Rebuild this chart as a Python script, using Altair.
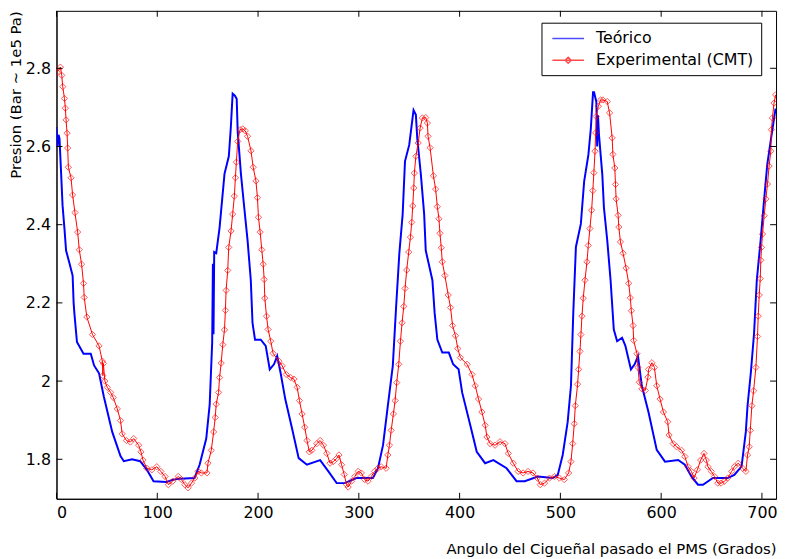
import altair as alt
import pandas as pd

# ---- Teórico (blue) ----
teo_x = [0, 1, 2, 3, 4.6, 6, 7.9, 9.5, 13, 16, 17, 17.7, 20.3, 26.8, 34, 37.3, 42.2, 47, 55.3, 63.5,
         66.8, 75, 83, 89.7, 96.3, 109, 116, 122.5, 137, 142, 148.6, 152, 154.5, 155.2, 155.8, 156.5,
         158.5, 161.8, 166.7, 171, 173, 174.8, 177, 178.8, 179.8, 183, 186.3, 189.6, 192.8, 194.5, 197,
         202.7, 207.6, 211.6, 215.8, 219, 222.3, 227, 233.8, 240.3, 248.5, 261.6, 269.8, 278, 286,
         297.6, 314, 319, 324, 328.8, 333.7, 337, 340.2, 343.5, 345.8, 350, 354.3, 356.6, 358, 361.5,
         364.8, 366.4, 373, 375.2, 377.9, 382.8, 389.3, 393.6, 399, 402.5, 410.6, 417, 425.3, 433.5,
         446.6, 456.5, 464.6, 477.7, 492.4, 497.4, 502.3, 507.2, 510.5, 512.8, 515.4, 520.3, 523.6,
         527.8, 530.2, 532.4, 533.4, 535.7, 536.5, 537.3, 538.3, 541.6, 543.2, 546.5, 549.8, 553,
         556.3, 561.2, 564.5, 570, 573.7, 577, 580.8, 587.4, 595.6, 603.8, 616.9, 623.5, 630, 636.5,
         641.5, 651.3, 666, 672.6, 679.8, 684, 685.7, 689, 692.2, 694.9, 698.7, 702, 705.3, 708.6, 713.5]
teo_y = [2.65, 2.60, 2.63, 2.62, 2.53, 2.45, 2.39, 2.334, 2.30, 2.27, 2.20, 2.175, 2.10, 2.07, 2.07, 2.04,
         2.02, 1.96, 1.87, 1.808, 1.795, 1.80, 1.795, 1.773, 1.744, 1.742, 1.748, 1.75, 1.752, 1.786,
         1.853, 1.94, 2.10, 2.30, 2.12, 2.33, 2.327, 2.392, 2.53, 2.575, 2.65, 2.735, 2.73, 2.722, 2.638,
         2.53, 2.444, 2.36, 2.258, 2.149, 2.106, 2.106, 2.09, 2.03, 2.043, 2.064, 2.022, 1.954, 1.878,
         1.803, 1.786, 1.798, 1.769, 1.739, 1.739, 1.752, 1.752, 1.777, 1.836, 1.937, 2.039, 2.19, 2.327,
         2.427, 2.562, 2.604, 2.693, 2.681, 2.62, 2.53, 2.428, 2.334, 2.258, 2.175, 2.106, 2.073, 2.073,
         2.043, 2.03, 1.971, 1.887, 1.819, 1.79, 1.798, 1.777, 1.744, 1.744, 1.756, 1.752, 1.76, 1.811,
         1.895, 1.988, 2.175, 2.343, 2.402, 2.511, 2.579, 2.646, 2.739, 2.739, 2.714, 2.60, 2.68, 2.63,
         2.528, 2.444, 2.36, 2.258, 2.132, 2.102, 2.111, 2.09, 2.03, 2.043, 2.064, 1.988, 1.921, 1.824,
         1.794, 1.798, 1.786, 1.756, 1.735, 1.735, 1.752, 1.752, 1.76, 1.782, 1.87, 1.937, 2.022, 2.123,
         2.258, 2.36, 2.46, 2.554, 2.613, 2.697]

# ---- Experimental (CMT) (red) ----
exp_x = [0.66, 3.9, 5.2, 6.2, 7.9, 8.8, 9.5, 10.5, 11.1, 11.8, 14.4, 16.0, 18.3, 21.0, 22.6, 24.9, 26.8,
         27.5, 30.1, 35.7, 42.2, 45.5, 46.0, 46.5, 48.0, 50.4, 53.7, 56.3, 60.3, 63.5, 65.2, 69.4, 73.3,
         76.6, 81.5, 83.8, 85.8, 89.7, 94.6, 99.5, 103.5, 107.7, 111.0, 115.3, 120.8, 124.0, 127.4,
         130.6, 133.9, 137.2, 140.5, 143.7, 149.3, 150.3, 153.6, 155.9, 157.5, 158.5, 160.8, 161.8,
         163.4, 165.0, 166.7, 167.6, 168.3, 169.9, 170.9, 173.2, 174.8, 176.5, 177.5, 178.5, 179.8,
         182.1, 184.9, 187.3, 189.6, 193.0, 195.2, 197.9, 199.4, 200.4, 202.1, 203.7, 205.1, 206.1,
         206.7, 208.4, 210.0, 212.6, 214.9, 220.7, 224.0, 228.0, 232.3, 235.6, 238.8, 241.1, 243.7,
         246.3, 248.6, 250.9, 253.4, 258.3, 261.6, 264.9, 268.2, 271.4, 274.7, 278.0, 280.3, 282.9,
         285.5, 287.8, 289.4, 292.7, 296.0, 299.3, 302.5, 305.8, 309.1, 312.4, 315.6, 318.9, 322.2,
         327.1, 328.8, 330.4, 332.1, 334.3, 336.0, 337.6, 339.6, 341.3, 342.9, 344.6, 345.9, 347.5,
         349.5, 351.2, 352.5, 353.5, 354.5, 355.1, 356.6, 358.9, 360.8, 363.1, 366.4, 368.0, 368.7,
         370.7, 374.0, 376.2, 377.9, 379.5, 380.5, 381.8, 382.8, 385.4, 388.7, 391.0, 393.0, 395.9,
         398.2, 400.8, 407.4, 412.3, 415.5, 418.8, 422.1, 425.4, 427.1, 430.3, 435.2, 440.1, 445.0,
         448.3, 453.2, 458.1, 463.0, 467.9, 472.8, 477.1, 480.0, 484.3, 489.2, 494.1, 499.0, 503.9,
         508.2, 510.5, 512.2, 513.8, 514.8, 517.1, 518.1, 519.4, 520.4, 521.4, 522.7, 524.4, 526.4,
         527.7, 529.3, 531.0, 532.2, 533.2, 534.4, 535.0, 535.6, 537.7, 539.9, 542.2, 546.5, 548.8,
         551.4, 552.1, 554.0, 554.7, 555.3, 557.3, 558.0, 559.6, 562.2, 565.2, 567.8, 569.4, 570.4,
         572.1, 572.7, 576.0, 577.0, 578.3, 580.9, 584.2, 586.9, 587.5, 590.8, 593.3, 595.6, 598.9,
         602.2, 606.5, 607.8, 612.0, 615.3, 620.2, 623.5, 626.7, 630.0, 632.6, 635.9, 639.2, 642.5,
         644.8, 646.4, 649.7, 653.0, 656.2, 659.5, 662.8, 666.0, 670.0, 672.6, 676.5, 680.8, 684.1,
         685.7, 687.4, 688.4, 690.0, 691.7, 694.0, 695.6, 696.3, 697.3, 698.3, 698.9, 699.6, 700.6,
         702.2, 703.9, 705.5, 707.1, 708.8, 709.4, 710.4, 712.0, 713.6]
exp_y = [2.790, 2.803, 2.782, 2.753, 2.723, 2.698, 2.668, 2.634, 2.596, 2.547, 2.520, 2.476, 2.431, 2.381,
         2.336, 2.299, 2.250, 2.214, 2.164, 2.119, 2.090, 2.051, 2.014, 2.045, 2.000, 1.984, 1.971, 1.958,
         1.929, 1.899, 1.865, 1.848, 1.844, 1.853, 1.836, 1.819, 1.798, 1.777, 1.773, 1.781, 1.769, 1.756,
         1.735, 1.744, 1.756, 1.748, 1.735, 1.727, 1.739, 1.752, 1.769, 1.765, 1.765, 1.790, 1.823, 1.870,
         1.907, 1.941, 1.971, 2.009, 2.046, 2.093, 2.131, 2.181, 2.232, 2.283, 2.342, 2.384, 2.427, 2.473,
         2.520, 2.560, 2.613, 2.643, 2.645, 2.640, 2.626, 2.589, 2.547, 2.512, 2.469, 2.419, 2.381, 2.336,
         2.299, 2.260, 2.212, 2.166, 2.132, 2.102, 2.071, 2.051, 2.039, 2.017, 2.009, 2.005, 1.984, 1.950,
         1.916, 1.882, 1.848, 1.819, 1.823, 1.840, 1.848, 1.836, 1.815, 1.790, 1.794, 1.802, 1.811, 1.786,
         1.761, 1.735, 1.729, 1.744, 1.756, 1.769, 1.765, 1.748, 1.744, 1.756, 1.769, 1.777, 1.781, 1.777,
         1.811, 1.836, 1.874, 1.916, 1.950, 1.996, 2.043, 2.102, 2.149, 2.191, 2.237, 2.284, 2.330, 2.368,
         2.406, 2.448, 2.494, 2.532, 2.575, 2.609, 2.647, 2.673, 2.674, 2.660, 2.626, 2.597, 2.525, 2.491,
         2.446, 2.415, 2.378, 2.341, 2.305, 2.270, 2.220, 2.188, 2.142, 2.116, 2.083, 2.060, 2.043, 2.017,
         1.988, 1.954, 1.921, 1.887, 1.857, 1.840, 1.836, 1.845, 1.840, 1.815, 1.790, 1.769, 1.765, 1.769,
         1.765, 1.752, 1.735, 1.739, 1.752, 1.756, 1.752, 1.748, 1.765, 1.794, 1.840, 1.891, 1.937, 1.992,
         2.030, 2.076, 2.119, 2.166, 2.212, 2.258, 2.305, 2.347, 2.390, 2.437, 2.487, 2.533, 2.588, 2.635,
         2.677, 2.703, 2.719, 2.719, 2.715, 2.686, 2.622, 2.580, 2.545, 2.503, 2.466, 2.424, 2.394, 2.356,
         2.327, 2.289, 2.250, 2.213, 2.180, 2.142, 2.104, 2.070, 2.035, 1.997, 1.980, 1.976, 2.010, 2.030,
         2.047, 2.035, 1.988, 1.954, 1.921, 1.896, 1.862, 1.840, 1.832, 1.823, 1.807, 1.781, 1.769, 1.752,
         1.773, 1.798, 1.815, 1.798, 1.781, 1.769, 1.756, 1.739, 1.739, 1.744, 1.752, 1.769, 1.781, 1.790,
         1.777, 1.769, 1.811, 1.832, 1.874, 1.937, 1.975, 2.035, 2.114, 2.166, 2.220, 2.262, 2.309, 2.342,
         2.376, 2.423, 2.466, 2.504, 2.550, 2.588, 2.643, 2.673, 2.711, 2.732]

series_names = ["Teórico", "Experimental (CMT)"]
series_colors = ["#0000ff", "#ff0000"]
x_ticks = [0, 100, 200, 300, 400, 500, 600, 700]
y_ticks = [1.8, 2.0, 2.2, 2.4, 2.6, 2.8]

teo = pd.DataFrame({"x": teo_x, "y": teo_y, "i": range(len(teo_x))})
exp = pd.DataFrame({"x": exp_x, "y": exp_y, "i": range(len(exp_x))})
leg = pd.DataFrame({"s": series_names})
xt = pd.DataFrame({"t": x_ticks})
yt = pd.DataFrame({"t": y_ticks})

W, H = 727, 493
FONT = "DejaVu Sans"
TL = 6

xscale = alt.Scale(domain=[0, 714], nice=False, zero=False)
yscale = alt.Scale(domain=[1.699, 2.947], nice=False, zero=False)
xaxis = alt.Axis(values=x_ticks, title="Angulo del Cigueñal pasado el PMS (Grados)", titleAnchor="end",
                 titlePadding=21, ticks=False, grid=False, labelPadding=6)
yaxis = alt.Axis(values=y_ticks, title="Presion (Bar ~ 1e5 Pa)", titleX=-33, titleY=0,
                 titleAngle=270, titleAlign="right", titleBaseline="bottom",
                 ticks=False, grid=False, labelPadding=6, format=".1~f")

X = lambda f: alt.X(f, type="quantitative", scale=xscale, axis=xaxis)
Y = lambda f: alt.Y(f, type="quantitative", scale=yscale, axis=yaxis)

blue = alt.Chart(teo).mark_line(color="#0000ff", strokeWidth=2, clip=True).encode(
    x=X("x"), y=Y("y"), order="i:Q")
red = alt.Chart(exp).mark_line(color="#ff0000", strokeWidth=1, clip=True).encode(
    x=X("x"), y=Y("y"), order="i:Q")
pts = alt.Chart(exp).mark_point(shape="diamond", filled=False, color="#ff0000", size=40,
                                strokeWidth=1, opacity=0.65, clip=True).encode(x=X("x"), y=Y("y"))

paths = ["M-2,0H2", "M-2,0H2M0,-0.375L0.375,0L0,0.375L-0.375,0Z"]
legend_layer = alt.Chart(leg).transform_filter("false").mark_point(filled=False).encode(
    x=X("x"), y=Y("y"),
    color=alt.Color("s:N", scale=alt.Scale(domain=series_names, range=series_colors),
                    legend=alt.Legend(title=None, orient="none", legendX=490, legendY=12,
                                      fillColor="white", strokeColor="black", padding=7,
                                      symbolOffset=11, symbolSize=256, symbolStrokeWidth=1.5,
                                      labelFontSize=16, labelFont=FONT, labelOffset=19,
                                      rowPadding=5, labelColor="black")),
    shape=alt.Shape("s:N", scale=alt.Scale(domain=series_names, range=paths)),
)

xt_bot = alt.Chart(xt).mark_rule(color="black").encode(x=X("t"), y=alt.value(H), y2=alt.value(H - TL))
xt_top = alt.Chart(xt).mark_rule(color="black").encode(x=X("t"), y=alt.value(0), y2=alt.value(TL))
yt_l = alt.Chart(yt).mark_rule(color="black").encode(y=Y("t"), x=alt.value(0), x2=alt.value(TL))
yt_r = alt.Chart(yt).mark_rule(color="black").encode(y=Y("t"), x=alt.value(W), x2=alt.value(W - TL))

chart = alt.layer(blue, red, pts, xt_bot, xt_top, yt_l, yt_r, legend_layer).properties(
    width=W, height=H,
    padding={"left": 49, "top": 0, "right": 5, "bottom": 58},
    autosize=alt.AutoSizeParams(type="none"),
).configure_view(stroke="black", strokeWidth=1).configure_axis(
    domainColor="black", labelColor="black", titleColor="black", labelFont=FONT, titleFont=FONT,
    labelFontSize=16, titleFontSize=15, titleFontWeight="normal"
)

chart.save("out.html", embed_options={"renderer": "svg", "actions": False})
